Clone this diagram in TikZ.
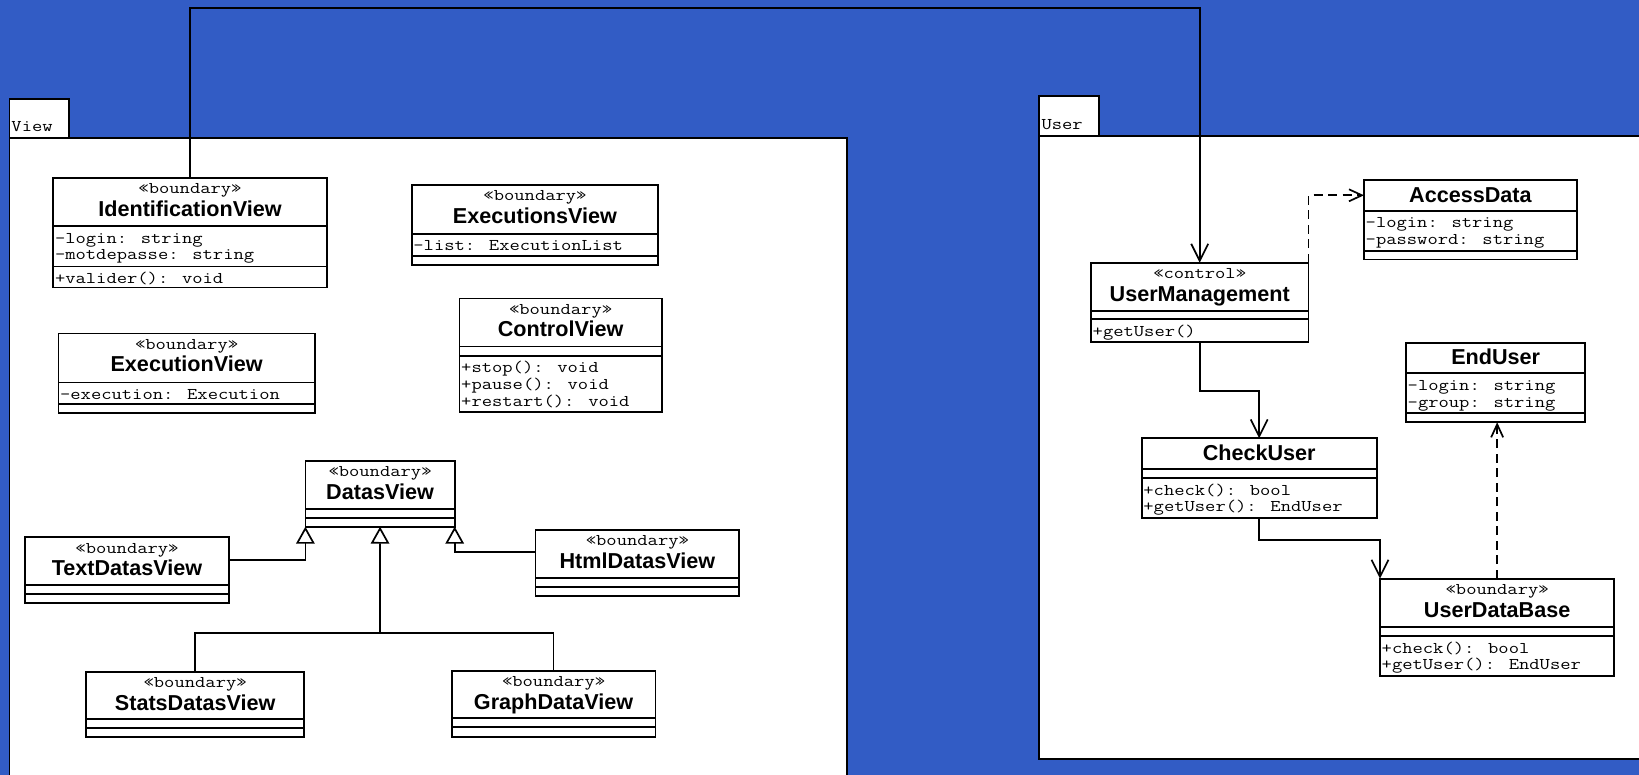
\documentclass[tikz,border=0pt]{standalone}
\usepackage{fontspec}
\usepackage{graphicx}
\newfontfamily\sansbold{Liberation Sans}
\usetikzlibrary{arrows.meta}
\definecolor{deskblue}{RGB}{50,92,197}

% typewriter face, widened a little to a Courier-like set width
\newcommand\umlmonofont{\ttfamily\fontsize{16.4}{16.7}\selectfont}
\newcommand\wide[1]{\scalebox{1.22}[1]{#1}}

\tikzset{
  umlline/.style={line width=1.7pt, draw=black},
  umlclass/.style={umlline, fill=white, rectangle, inner sep=0pt, outer sep=0pt},
  pkg/.style={umlline, fill=white},
  stereo/.style={font=\umlmonofont, inner sep=0pt, anchor=base},
  cname/.style={font=\sansbold\bfseries\fontsize{21.6}{24}\selectfont, inner sep=0pt, anchor=base},
  member/.style={font=\umlmonofont, inner sep=0pt, anchor=base west},
  assoc/.style={umlline, -{Straight Barb[length=17pt,width=17pt]}},
  dep/.style={umlline, dash pattern=on 9pt off 5.5pt, -{Straight Barb[length=13pt,width=12pt]}},
  gen/.style={umlline, -{Triangle[length=17pt,width=18.5pt,fill=white]}},
}

% lines of one compartment, set tight; baseline of the stack is its first line
\newcommand\memberlines[1]{\wide{\vtop{\baselineskip=16.7pt\lineskiplimit=-100pt\lineskip=0pt #1}}}
% class frame: name, left, top, right, bottom
\newcommand\umlbox[5]{\node[umlclass, minimum width={#4-#2}, minimum height={#5-#3}] (#1) at ({(#2+#4)/2},{(#3+#5)/2}) {};}
% compartment separator at a given y
\newcommand\umlsep[2]{\draw[umlline] (#1.west |- 0,#2) -- (#1.east |- 0,#2);}
% stereotype line below the top edge
\newcommand\umlstereo[2]{\node[stereo] (#1-st) at ([yshift=-15.7pt]#1.north) {\wide{#2}};}
% class name, baseline offset from the top edge
\newcommand\umlname[3]{\node[cname] (#1-nm) at ([yshift=-#2pt]#1.north) {#3};}
% one compartment of attributes / operations: box, tag, first baseline y, \hbox lines
\newcommand\umlmembers[4]{\path (#1.west |- 0,#3) ++(1.5,0)
  node[member] (#1-#2) {\memberlines{#4}};}

\begin{document}
\begin{tikzpicture}[x=1pt, y=-1pt]
\useasboundingbox (0,0) rectangle (1639,775);
\fill[deskblue] (0,0) rectangle (1639,775);

% packages
\draw[pkg] (9.4,99.3) rectangle (69,138.3);
\draw[pkg] (9.4,138.3) rectangle (846.7,790);
\node[member] (viewlbl) at (11.3,131.7) {\wide{View}};
\draw[pkg] (1039,96) rectangle (1099,135.7);
\draw[pkg] (1039,135.7) rectangle (1660,758.7);
\node[member] (userlbl) at (1041.3,129.3) {\wide{User}};

% ---- View package classes ----
\umlbox{idv}{53.3}{178.3}{326.7}{287.5}
\umlstereo{idv}{«boundary»}
\umlname{idv}{38.4}{IdentificationView}
\umlsep{idv}{226}
\umlmembers{idv}{attr}{243.3}{\hbox{-login: string}\hbox{-motdepasse: string}}
\umlsep{idv}{266.5}
\umlmembers{idv}{ops}{283.5}{\hbox{+valider(): void}}

\umlbox{esv}{411.7}{185}{658.3}{265}
\umlstereo{esv}{«boundary»}
\umlname{esv}{38.4}{ExecutionsView}
\umlsep{esv}{234}
\umlmembers{esv}{attr}{251}{\hbox{-list: ExecutionList}}
\umlsep{esv}{256}

\umlbox{exv}{58.4}{333.4}{314.8}{412.8}
\umlstereo{exv}{«boundary»}
\umlname{exv}{38.4}{ExecutionView}
\umlsep{exv}{382.6}
\umlmembers{exv}{attr}{399.6}{\hbox{-execution: Execution}}
\umlsep{exv}{404}

\umlbox{ctv}{459.5}{298.5}{661.7}{411.8}
\umlstereo{ctv}{«boundary»}
\umlname{ctv}{38.4}{ControlView}
\umlsep{ctv}{346.5}
\umlsep{ctv}{355.8}
\umlmembers{ctv}{ops}{372.8}{\hbox{+stop(): void}\hbox{+pause(): void}\hbox{+restart(): void}}

\umlbox{dv}{305.4}{460.7}{454.7}{526.7}
\umlstereo{dv}{«boundary»}
\umlname{dv}{38.4}{DatasView}
\umlsep{dv}{509}
\umlsep{dv}{517.7}

\umlbox{tdv}{25.2}{537.3}{228.8}{602.7}
\umlstereo{tdv}{«boundary»}
\umlname{tdv}{38.4}{TextDatasView}
\umlsep{tdv}{585}
\umlsep{tdv}{594}

\umlbox{hdv}{535.6}{530}{739.2}{596}
\umlstereo{hdv}{«boundary»}
\umlname{hdv}{38.4}{HtmlDatasView}
\umlsep{hdv}{578.3}
\umlsep{hdv}{586.7}

\umlbox{sdv}{86.3}{671.7}{304}{737.3}
\umlstereo{sdv}{«boundary»}
\umlname{sdv}{38.4}{StatsDatasView}
\umlsep{sdv}{719.3}
\umlsep{sdv}{728.3}

\umlbox{gdv}{451.8}{670.7}{655.4}{736.7}
\umlstereo{gdv}{«boundary»}
\umlname{gdv}{38.4}{GraphDataView}
\umlsep{gdv}{718.3}
\umlsep{gdv}{727.3}

% ---- User package classes ----
\umlbox{um}{1091}{262.7}{1308.4}{341.7}
\umlstereo{um}{«control»}
\umlname{um}{38.4}{UserManagement}
\umlsep{um}{311}
\umlsep{um}{319.3}
\umlmembers{um}{ops}{336.3}{\hbox{+getUser()}}

\umlbox{ad}{1364}{180}{1576.8}{259.5}
\umlname{ad}{22.5}{AccessData}
\umlsep{ad}{210.7}
\umlmembers{ad}{attr}{228}{\hbox{-login: string}\hbox{-password: string}}
\umlsep{ad}{251}

\umlbox{eu}{1406}{343.3}{1585.3}{422.3}
\umlname{eu}{21.5}{EndUser}
\umlsep{eu}{373.3}
\umlmembers{eu}{attr}{390.5}{\hbox{-login: string}\hbox{-group: string}}
\umlsep{eu}{412.7}

\umlbox{cu}{1141.7}{438.3}{1376.7}{517.7}
\umlname{cu}{21.8}{CheckUser}
\umlsep{cu}{469}
\umlsep{cu}{477.7}
\umlmembers{cu}{ops}{495.2}{\hbox{+check(): bool}\hbox{+getUser(): EndUser}}

\umlbox{udb}{1380}{578.7}{1614.3}{675.7}
\umlstereo{udb}{«boundary»}
\umlname{udb}{38.4}{UserDataBase}
\umlsep{udb}{626.7}
\umlsep{udb}{635.7}
\umlmembers{udb}{ops}{653}{\hbox{+check(): bool}\hbox{+getUser(): EndUser}}

% ---- connectors ----
\coordinate (topbend) at (190,8.3);
\draw[assoc] (idv.north) -- (idv.north |- topbend) -| (um.north);

\draw[gen] (tdv.east |- 0,560) -| (dv.south west);
\draw[gen] (hdv.west |- 0,552.3) -| (dv.south east);
\coordinate (junc) at (380,633.3);
\draw[umlline] (sdv.north) |- (junc) -| (gdv.north);
\draw[gen] (junc) -- (dv.south);

\draw[assoc] (um.south) -- (um.south |- 0,391) -| (cu.north);
\draw[assoc] (cu.south) -- (cu.south |- 0,540) -| (udb.north west);
\draw[dep] (um.north east) |- (ad.west |- 0,195.3);
\draw[dep] (udb.north) -- (udb.north |- eu.south);
\end{tikzpicture}
\end{document}
